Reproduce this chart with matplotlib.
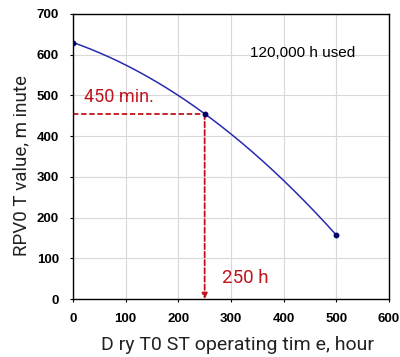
import numpy as np
import matplotlib
matplotlib.use("Agg")
import matplotlib.pyplot as plt

hours = [0, 250, 500]
rpvot = [630, 455, 157]
xticks = [0, 100, 200, 300, 400, 500, 600]
yticks = [0, 100, 200, 300, 400, 500, 600, 700]

fig = plt.figure(figsize=(4.0, 3.57), dpi=100)
ax = fig.add_axes([73/400, 58/357, 316/400, 285/357])

coef = np.polyfit(hours, rpvot, 2)
xs = np.linspace(hours[0], hours[-1], 200)
ax.plot(xs, np.polyval(coef, xs), color="#2a2ab0", lw=1.1, zorder=3)
ax.plot(hours, rpvot, "o", color="#000066", ms=3.2, zorder=4)

red = "#c0141c"
ax.plot([0, hours[1]], [rpvot[1], rpvot[1]], ls=(0, (3, 1.5)), color=red, lw=1.3, zorder=2)
ax.annotate("", xy=(hours[1], 0), xytext=(hours[1], rpvot[1]),
            arrowprops=dict(arrowstyle="-|>", color=red, lw=1.3, ls=(0, (3, 1.5)),
                            mutation_scale=8, shrinkA=0, shrinkB=0), zorder=2)

ax.text(21, 497, "450 min.", color=red, fontsize=13, va="center", ha="left",
        family="Roboto")
ax.text(283, 52, "250 h", color=red, fontsize=13.5, va="center", ha="left",
        family="Roboto")
ax.text(336, 604, "120,000 h used", color="black", fontsize=11, va="center", ha="left",
        family="Liberation Sans")

ax.set_xlim(0, 600)
ax.set_ylim(0, 700)
ax.set_xticks(xticks)
ax.set_yticks(yticks)
for lab in ax.get_xticklabels() + ax.get_yticklabels():
    lab.set_fontweight("bold")
    lab.set_fontsize(9.5)
    lab.set_family("Liberation Sans")
ax.tick_params(length=2, width=0.8, pad=8)
ax.grid(True, color="#d8d8d8", lw=0.8)
ax.set_axisbelow(True)
for s in ax.spines.values():
    s.set_linewidth(1.0)

ax.set_xlabel("D ry T0 ST operating tim e, hour", fontsize=14,
              family="Roboto", color="#222222")
ax.set_ylabel("RPV0 T value, m inute", fontsize=13.5,
              family="Roboto", color="#222222")
ax.xaxis.set_label_coords(0.522, -0.13)
ax.yaxis.set_label_coords(-0.135, 0.467)

fig.savefig("out.png", dpi=100)
